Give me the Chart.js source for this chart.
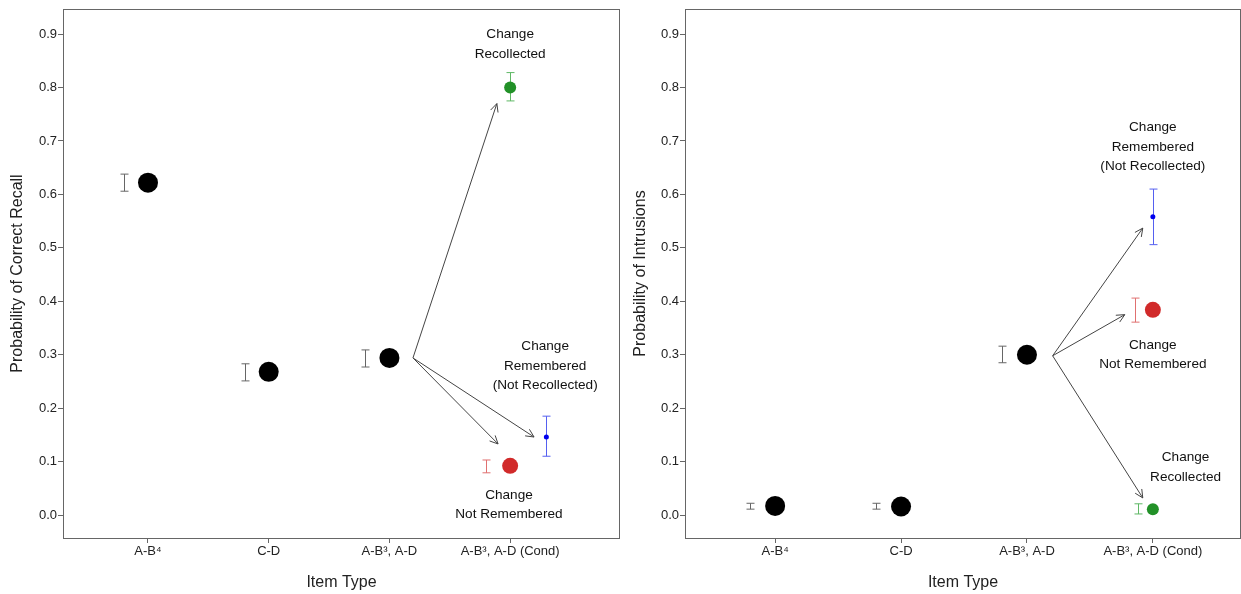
<!DOCTYPE html>
<html><head><meta charset="utf-8">
<script src="https://cdn.jsdelivr.net/npm/chart.js@4"></script>
<style>
html,body{margin:0;padding:0;background:#fff;}
#wrap{position:relative;width:1241px;height:594px;overflow:hidden;background:#fff;}
canvas{position:absolute;top:0;}
#c1{left:0;} #c2{left:625px;}
</style></head><body>
<div id="wrap"><canvas id="c1" width="625" height="594"></canvas><canvas id="c2" width="616" height="594"></canvas></div>
<script>
// ---------- DATA ----------
const categories = ['A-B\u2074', 'C-D', 'A-B\u00B3, A-D', 'A-B\u00B3, A-D (Cond)'];
const categoryX = [1, 2, 3, 4];
const yTickValues = [0, 0.1, 0.2, 0.3, 0.4, 0.5, 0.6, 0.7, 0.8, 0.9];

// Left panel: probability of correct recall
const recallBlackX = [1, 2, 3];
const recallBlackY = [0.622, 0.268, 0.294];
const recallBlackErrX = [0.8, 1.8, 2.8];
const recallBlackLo = [0.606, 0.251, 0.277];
const recallBlackHi = [0.638, 0.283, 0.309];
// conditional order: Recollected, Not Remembered, Remembered (Not Recollected)
const recallCondX = [4, 4, 4.3];
const recallCondY = [0.800, 0.092, 0.146];
const recallCondErrX = [4, 3.8, 4.3];
const recallCondLo = [0.775, 0.079, 0.110];
const recallCondHi = [0.828, 0.103, 0.185];
const recallArrowFrom = [3.195, 0.294];
const recallArrowToX = [3.89, 3.90, 4.198];
const recallArrowToY = [0.770, 0.133, 0.146];
const recallLabelText = ['Change\nRecollected', 'Change\nNot Remembered', 'Change\nRemembered\n(Not Recollected)'];
const recallLabelX = [4.0, 3.99, 4.29];
const recallLabelY = [0.881, 0.019, 0.279];

// Right panel: probability of intrusions
const intrBlackX = [1, 2, 3];
const intrBlackY = [0.017, 0.016, 0.300];
const intrBlackErrX = [0.8, 1.8, 2.8];
const intrBlackLo = [0.011, 0.011, 0.285];
const intrBlackHi = [0.022, 0.022, 0.316];
const intrCondX = [4, 4, 4];
const intrCondY = [0.011, 0.384, 0.558];
const intrCondErrX = [3.88, 3.857, 4];
const intrCondLo = [0.002, 0.361, 0.506];
const intrCondHi = [0.021, 0.406, 0.610];
const intrArrowFrom = [3.204, 0.298];
const intrArrowToX = [3.92, 3.777, 3.92];
const intrArrowToY = [0.032, 0.375, 0.537];
const intrLabelText = ['Change\nRecollected', 'Change\nNot Remembered', 'Change\nRemembered\n(Not Recollected)'];
const intrLabelX = [4.26, 4.0, 4.0];
const intrLabelY = [0.089, 0.300, 0.689];

// ---------- STYLE ----------
const FONT = "'Liberation Sans', Arial, sans-serif";
const condColors = ['#229128', '#d12a2a', '#0000ee'];
const condErrColors = ['#5fb865', '#e07070', '#5560f0'];
const condRadius = [6, 8, 2.5];
const blackRadius = 10;

function pts(xs, ys) { return xs.map((x, i) => ({x: x, y: ys[i]})); }

const overlay = {
  id: 'overlay',
  beforeDatasetsDraw(chart) {
    const p = chart.options.plugins.overlay;
    const xs = chart.scales.x, ys = chart.scales.y, ctx = chart.ctx;
    ctx.save();
    const bar = (x, lo, hi, col) => {
      const px = Math.round(xs.getPixelForValue(x)) + 0.5;
      const pl = ys.getPixelForValue(lo), ph = ys.getPixelForValue(hi);
      ctx.strokeStyle = col; ctx.lineWidth = 1;
      ctx.beginPath();
      ctx.moveTo(px, pl); ctx.lineTo(px, ph);
      ctx.moveTo(px - 4, pl); ctx.lineTo(px + 4, pl);
      ctx.moveTo(px - 4, ph); ctx.lineTo(px + 4, ph);
      ctx.stroke();
    };
    p.bErrX.forEach((x, i) => bar(x, p.bLo[i], p.bHi[i], '#666'));
    p.cErrX.forEach((x, i) => bar(x, p.cLo[i], p.cHi[i], condErrColors[i]));
    ctx.restore();
  },
  afterDatasetsDraw(chart) {
    const p = chart.options.plugins.overlay;
    const xs = chart.scales.x, ys = chart.scales.y, ctx = chart.ctx;
    ctx.save();
    const fx = xs.getPixelForValue(p.from[0]), fy = ys.getPixelForValue(p.from[1]);
    ctx.strokeStyle = '#444'; ctx.lineWidth = 1;
    p.toX.forEach((x, i) => {
      const tx = xs.getPixelForValue(x), ty = ys.getPixelForValue(p.toY[i]);
      const a = Math.atan2(ty - fy, tx - fx);
      const L = 9, w = 0.45;
      ctx.beginPath();
      ctx.moveTo(fx, fy); ctx.lineTo(tx, ty);
      ctx.moveTo(tx - L * Math.cos(a - w), ty - L * Math.sin(a - w));
      ctx.lineTo(tx, ty);
      ctx.lineTo(tx - L * Math.cos(a + w), ty - L * Math.sin(a + w));
      ctx.stroke();
    });
    ctx.fillStyle = '#111';
    ctx.font = '13.6px ' + FONT;
    ctx.textAlign = 'center'; ctx.textBaseline = 'middle';
    p.text.forEach((t, i) => {
      const lines = t.split('\n');
      const cx = xs.getPixelForValue(p.tX[i]), cy = ys.getPixelForValue(p.tY[i]);
      const lh = 19.5;
      lines.forEach((ln, k) => ctx.fillText(ln, cx, cy + (k - (lines.length - 1) / 2) * lh));
    });
    ctx.restore();
  },
  afterDraw(chart) {
    const a = chart.chartArea, ctx = chart.ctx;
    ctx.save();
    ctx.strokeStyle = '#666'; ctx.lineWidth = 1;
    ctx.strokeRect(Math.round(a.left) + 0.5, Math.round(a.top) + 0.5, Math.round(a.right - a.left) - 1, Math.round(a.bottom - a.top));
    ctx.restore();
  }
};

function makeChart(id, cfg) {
  const datasets = [
    {data: pts(cfg.bX, cfg.bY), pointRadius: blackRadius, backgroundColor: '#000', borderColor: '#000', borderWidth: 0}
  ];
  cfg.cX.forEach((x, i) => datasets.push({data: [{x: x, y: cfg.cY[i]}], pointRadius: condRadius[i], backgroundColor: condColors[i], borderColor: condColors[i], borderWidth: 0}));
  return new Chart(document.getElementById(id), {
    type: 'scatter',
    data: {datasets: datasets},
    plugins: [overlay],
    options: {
      responsive: false, animation: false, devicePixelRatio: 1,
      events: [],
      layout: {autoPadding: false, padding: {top: 9, right: cfg.padRight, left: 0, bottom: 0}},
      plugins: {
        legend: {display: false}, tooltip: {enabled: false},
        overlay: {bErrX: cfg.bErrX, bLo: cfg.bLo, bHi: cfg.bHi, cErrX: cfg.cErrX, cLo: cfg.cLo, cHi: cfg.cHi,
          from: cfg.from, toX: cfg.toX, toY: cfg.toY, text: cfg.text, tX: cfg.tX, tY: cfg.tY}
      },
      scales: {
        x: {
          type: 'linear', min: cfg.xMin, max: cfg.xMax,
          afterBuildTicks: s => { s.ticks = categoryX.map(v => ({value: v})); },
          afterFit: s => { s.height = 56; s.paddingLeft = 0; s.paddingRight = 0; },
          ticks: {autoSkip: false, maxRotation: 0, padding: 1, color: '#222', font: {family: FONT, size: 13},
            callback: v => categories[categoryX.indexOf(v)]},
          grid: {drawOnChartArea: false, drawTicks: true, tickLength: 5, color: '#666'},
          border: {display: false},
          title: {display: true, text: 'Item Type', color: '#222', font: {family: FONT, size: 16}, padding: {top: 0, bottom: 1.4}}
        },
        y: {
          type: 'linear', min: -0.043, max: 0.947,
          afterBuildTicks: s => { s.ticks = yTickValues.map(v => ({value: v})); },
          afterFit: s => { s.width = cfg.yWidth; s.paddingTop = 0; s.paddingBottom = 0; },
          ticks: {padding: 1, color: '#222', font: {family: FONT, size: 13}, callback: v => v.toFixed(1)},
          grid: {drawOnChartArea: false, drawTicks: true, tickLength: 5, color: '#666'},
          border: {display: false},
          title: {display: true, text: cfg.yTitle, color: '#222', font: {family: FONT, size: 16}, padding: {top: cfg.yTitlePad, bottom: 0}}
        }
      }
    }
  });
}

makeChart('c1', {
  bX: recallBlackX, bY: recallBlackY, bErrX: recallBlackErrX, bLo: recallBlackLo, bHi: recallBlackHi,
  cX: recallCondX, cY: recallCondY, cErrX: recallCondErrX, cLo: recallCondLo, cHi: recallCondHi,
  from: recallArrowFrom, toX: recallArrowToX, toY: recallArrowToY,
  text: recallLabelText, tX: recallLabelX, tY: recallLabelY,
  xMin: 0.296, xMax: 4.91, yWidth: 63, padRight: 5, yTitle: 'Probability of Correct Recall', yTitlePad: 8.4
});
makeChart('c2', {
  bX: intrBlackX, bY: intrBlackY, bErrX: intrBlackErrX, bLo: intrBlackLo, bHi: intrBlackHi,
  cX: intrCondX, cY: intrCondY, cErrX: intrCondErrX, cLo: intrCondLo, cHi: intrCondHi,
  from: intrArrowFrom, toX: intrArrowToX, toY: intrArrowToY,
  text: intrLabelText, tX: intrLabelX, tY: intrLabelY,
  xMin: 0.284, xMax: 4.70, yWidth: 60, padRight: 0, yTitle: 'Probability of Intrusions', yTitlePad: 6.4
});
</script>
</body></html>
